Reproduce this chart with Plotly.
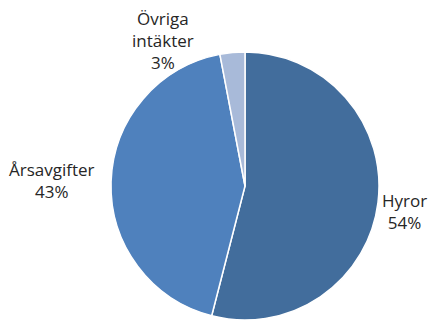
import plotly.graph_objects as go

labels = ["Hyror", "Årsavgifter", "Övriga intäkter"]
label_text = ["Hyror", "Årsavgifter", "Övriga<br>intäkter"]
values = [54, 43, 3]
colors = ["#426d9c", "#4f81bd", "#a8bad9"]

# page body has an 8px margin, so the figure starts at (8, 8) in the window
OFF = 8
W, H = 436 - OFF, 321 - OFF
cx, cy, r = 245 - OFF, 186 - OFF, 134

fig = go.Figure(go.Pie(
    labels=labels, values=values, sort=False, direction="clockwise", rotation=0,
    marker=dict(colors=colors, line=dict(color="white", width=1.5)),
    textinfo="none", hoverinfo="label+percent", showlegend=False,
    domain=dict(x=[(cx - r) / W, (cx + r) / W], y=[1 - (cy + r) / H, 1 - (cy - r) / H]),
))

# label anchor positions (window pixels) in reference
label_pos = [(404, 211), (52, 180), (163, 40)]
for txt, v, (px, py) in zip(label_text, values, label_pos):
    fig.add_annotation(
        x=(px - OFF) / W, y=1 - (py - OFF) / H, xref="paper", yref="paper",
        text=f"{txt}<br>{v}%", showarrow=False, xanchor="center", yanchor="middle",
        font=dict(family="Open Sans, Noto Sans, sans-serif", size=17, color="#262626"),
    )

fig.update_layout(
    width=W, height=H, margin=dict(l=0, r=0, t=0, b=0),
    paper_bgcolor="white", plot_bgcolor="white",
)
fig.write_html("out.html")
